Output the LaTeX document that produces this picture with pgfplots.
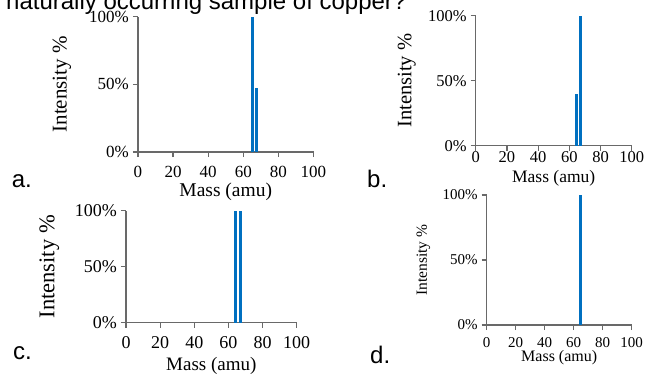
\documentclass[border=0pt]{standalone}
\usepackage{pgfplots}
\pgfplotsset{compat=1.18}
\usepackage{fontspec}
\setmainfont{Liberation Serif}
\newfontfamily\arialfont{Liberation Sans}
\definecolor{barblue}{RGB}{0,112,192}
\definecolor{axgray}{RGB}{105,105,105}
\newcommand{\fs}[1]{\fontsize{#1}{#1}\selectfont}

\pgfplotsset{
  massplot/.style={
    scale only axis,
    axis x line=bottom, axis y line=left,
    axis line style={-, draw=axgray, line width=1.2pt},
    every tick/.style={draw=axgray, line width=1.2pt},
    tick align=outside, major tick length=5pt,
    xmin=0, xmax=100, ymin=0, ymax=100,
    xtick={0,20,40,60,80,100}, xticklabels={0,20,40,60,80,100},
    ytick={0,50,100}, yticklabels={0\%,50\%,100\%},
    /pgf/number format/assume math mode=true,
    xticklabel style={inner sep=0pt, anchor=north},
    yticklabel style={inner sep=0pt, anchor=east, xshift=-4pt},
    ylabel={Intensity \%}, xlabel={Mass (amu)},
    clip=false,
  },
  peaks/.style={ycomb, no marks, draw=barblue, line width=3pt},
}

\begin{document}
\begin{tikzpicture}[x=1pt,y=1pt]
\useasboundingbox (0,0) rectangle (646,-378);

% question text (cut off at the top)
\node[anchor=base west, inner sep=0pt, font=\arialfont\fs{24}] at (6,-9) {naturally occurring sample of copper?};

% panel a
\begin{axis}[massplot, at={(138pt,-152pt)}, anchor=south west,
  width=175.5pt, height=135.3pt,
  tick label style={font=\fs{17}},
  xticklabel style={yshift=-9pt},
  ylabel style={font=\fs{21}, at={(axis description cs:0,0.5)}, anchor=center, yshift=76pt},
  xlabel style={font=\fs{19.5}, at={(axis description cs:0.5,0)}, anchor=center, yshift=-40pt}]
\addplot[peaks] coordinates {(65.2,100) (67.5,47)};
\end{axis}

% panel b
\begin{axis}[massplot, at={(475.7pt,-145.7pt)}, anchor=south west,
  width=156pt, height=130pt,
  tick label style={font=\fs{16.5}},
  xticklabel style={yshift=-1pt},
  ylabel style={font=\fs{20.5}, at={(axis description cs:0,0.5)}, anchor=center, yshift=69pt},
  xlabel style={font=\fs{17.5}, at={(axis description cs:0.5,0)}, anchor=center, yshift=-32.3pt}]
\addplot[peaks] coordinates {(64.3,40) (67.3,100)};
\end{axis}

% panel c
\begin{axis}[massplot, at={(126pt,-322.7pt)}, anchor=south west,
  width=170.7pt, height=112pt,
  tick label style={font=\fs{18}},
  xticklabel style={yshift=-9pt},
  ylabel style={font=\fs{22.5}, at={(axis description cs:0,0.5)}, anchor=center, yshift=76.7pt},
  xlabel style={font=\fs{19}, at={(axis description cs:0.5,0)}, anchor=center, yshift=-43.5pt}]
\addplot[peaks] coordinates {(64.3,100) (67.2,100)};
\end{axis}

% panel d
\begin{axis}[massplot, at={(486.7pt,-325pt)}, anchor=south west,
  width=145pt, height=130pt,
  tick label style={font=\fs{15}},
  xticklabel style={yshift=-7pt},
  ylabel style={font=\fs{15.5}, at={(axis description cs:0,0.5)}, anchor=center, yshift=63.4pt},
  xlabel style={font=\fs{16}, at={(axis description cs:0.5,0)}, anchor=center, yshift=-33pt}]
\addplot[peaks] coordinates {(64.6,100)};
\end{axis}

% panel letters
\node[anchor=base west, inner sep=0pt, font=\arialfont\fs{24}] at (11.7,-187) {a.};
\node[anchor=base west, inner sep=0pt, font=\arialfont\fs{24}] at (367,-187) {b.};
\node[anchor=base west, inner sep=0pt, font=\arialfont\fs{24}] at (13,-359) {c.};
\node[anchor=base west, inner sep=0pt, font=\arialfont\fs{24}] at (370,-363) {d.};
\end{tikzpicture}
\end{document}
